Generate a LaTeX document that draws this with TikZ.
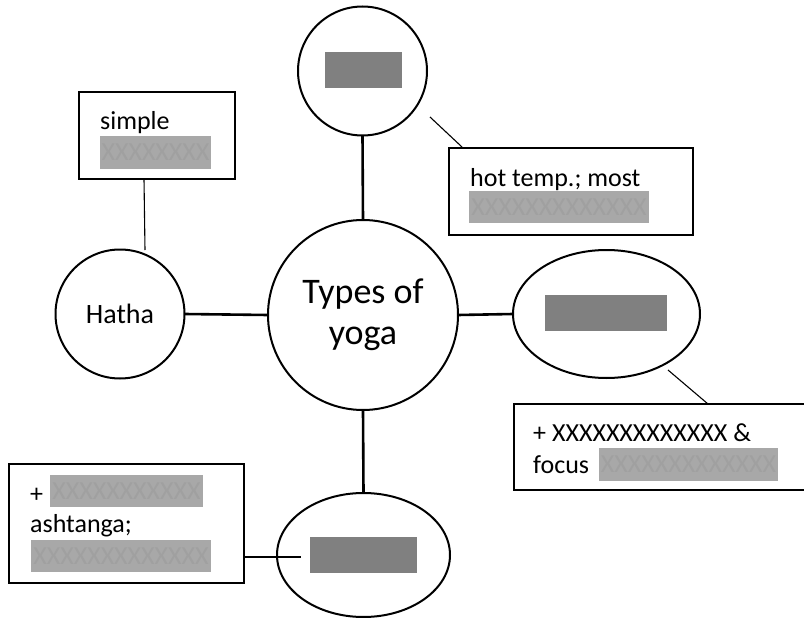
\documentclass[tikz,border=0pt]{standalone}
\usepackage{fontspec}
\setmainfont{Carlito}
\usetikzlibrary{shapes.geometric}
\definecolor{darkbar}{HTML}{808080}
\definecolor{lightbar}{HTML}{A8A8A8}
\definecolor{xtext}{HTML}{A0A0A0}
\tikzset{
  bubble/.style={circle, draw=black, line width=2pt, inner sep=0pt, outer sep=0pt},
  oval/.style={ellipse, draw=black, line width=2pt, inner sep=0pt, outer sep=0pt},
  notebox/.style={rectangle, draw=black, line width=1.8pt, inner sep=0pt, outer sep=0pt},
  darkfill/.style={rectangle, fill=darkbar, inner sep=0pt, outer sep=0pt},
  lightfill/.style={rectangle, fill=lightbar, inner sep=0pt, outer sep=0pt, text=xtext,
    font=\fontsize{26}{26}\selectfont},
  txt/.style={anchor=base west, inner sep=0pt, font=\fontsize{26}{32}\selectfont},
  mainlink/.style={line width=2.6pt},
  thinlink/.style={line width=1.1pt},
}
\begin{document}
\begin{tikzpicture}[x=1pt,y=-1pt]
\useasboundingbox (0,0) rectangle (804,618);
\fill[white] (0,0) rectangle (804,618);
\begin{scope}
\clip (0,0) rectangle (804,618);
% circles and ellipses
\node[bubble, minimum size=190pt, align=center, font=\fontsize{36}{41}\selectfont] (center) at (363,315) {Types of\\yoga};
\node[bubble, minimum size=129pt] (top) at (362.5,71) {};
\node[bubble, minimum size=129pt, font=\fontsize{28}{30}\selectfont] (hatha) at (120,314) {Hatha};
\node[oval, minimum width=187pt, minimum height=128pt] (right) at (606.5,314) {};
\node[oval, minimum width=173pt, minimum height=124pt] (bottom) at (363.5,555) {};
% dark bars
\node[darkfill, minimum width=77pt, minimum height=36pt] (topbar) at (363.5,70) {};
\node[darkfill, minimum width=122pt, minimum height=36pt] (rightbar) at (606,313) {};
\node[darkfill, minimum width=107pt, minimum height=36pt] (bottombar) at (363.5,555) {};
% note boxes
\node[notebox, minimum width=156pt, minimum height=87pt] (simplebox) at (157,135.5) {};
\node[notebox, minimum width=244pt, minimum height=87pt] (hotbox) at (571,191.5) {};
\node[notebox, minimum width=316pt, minimum height=86pt] (rightbox) at (672,447) {};
\node[notebox, minimum width=235pt, minimum height=119pt] (leftbox) at (126.5,523.5) {};
% texts
\node[txt] (simpletxt) at (100,129) {simple};
\node[lightfill, minimum width=111pt, minimum height=33pt] (simplebar) at (155.5,152.5) {XXXXXXXX};
\node[txt] (hottxt) at (470,186) {hot temp.; most};
\node[lightfill, minimum width=180pt, minimum height=32pt] (hotbar) at (559,207) {XXXXXXXXXXXXX};
\node[txt] (r1) at (533,441) {+ XXXXXXXXXXXXX \&};
\node[txt] (r2) at (533,473) {focus};
\node[lightfill, minimum width=179pt, minimum height=33pt] (rbar) at (688.5,464.5) {XXXXXXXXXXXXX};
\node[txt] (l1) at (30,502) {+};
\node[lightfill, minimum width=153pt, minimum height=32pt] (lbar1) at (126.5,491) {XXXXXXXXXXX};
\node[txt] (l2) at (30,532) {ashtanga;};
\node[lightfill, minimum width=180pt, minimum height=32pt] (lbar2) at (121,556) {XXXXXXXXXXXXX};
% main connectors
\draw[mainlink] (top.south) -- (center.north);
\draw[mainlink] (hatha.east) -- (center.west);
\draw[mainlink] (center.east) -- (right.west);
\draw[mainlink] (center.south) -- (bottom.north);
% thin connectors
\coordinate (s1) at (144,179);
\coordinate (s2) at (145,250);
\draw[thinlink] (s1) -- (s2);
\coordinate (h1) at (430,117);
\coordinate (h2) at (462,147);
\draw[thinlink] (h1) -- (h2);
\coordinate (e1) at (668,370);
\coordinate (e2) at (708,404);
\draw[thinlink] (e1) -- (e2);
\coordinate (b1) at (244,557);
\coordinate (b2) at (301,557);
\draw[thinlink] (b1) -- (b2);
\end{scope}
\end{tikzpicture}
\end{document}
